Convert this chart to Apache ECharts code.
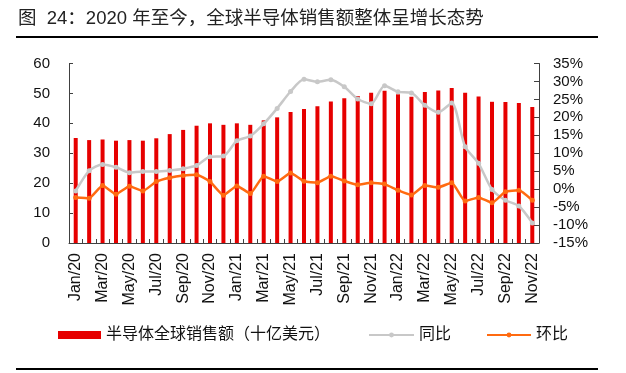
<!DOCTYPE html>
<html>
<head>
<meta charset="utf-8">
<script src="https://cdn.jsdelivr.net/npm/echarts@6/dist/echarts.min.js"></script>
<style>
html,body{margin:0;padding:0;background:#fff;}
#chart{width:626px;height:373px;}
</style>
</head>
<body>
<div id="chart"></div>
<script>
var months = ['Jan/20','Feb/20','Mar/20','Apr/20','May/20','Jun/20','Jul/20','Aug/20','Sep/20','Oct/20','Nov/20','Dec/20',
  'Jan/21','Feb/21','Mar/21','Apr/21','May/21','Jun/21','Jul/21','Aug/21','Sep/21','Oct/21','Nov/21','Dec/21',
  'Jan/22','Feb/22','Mar/22','Apr/22','May/22','Jun/22','Jul/22','Aug/22','Sep/22','Oct/22','Nov/22'];
var sales = [35.1, 34.4, 34.6, 34.2, 34.4, 34.2, 35.0, 36.4, 37.8, 39.2, 40.0, 39.5,
  40.0, 39.5, 41.0, 42.0, 43.8, 44.8, 45.7, 47.3, 48.4, 49.1, 50.2, 50.9,
  49.7, 48.9, 50.5, 51.0, 51.8, 50.2, 49.0, 47.2, 47.1, 46.8, 45.5];
var yoy = [-0.5, 5.1, 6.9, 6.1, 4.6, 4.9, 4.9, 5.2, 5.7, 6.6, 9.0, 9.2,
  13.5, 14.8, 18.2, 22.5, 27.2, 30.6, 29.9, 30.5, 28.5, 25.1, 23.8, 28.8,
  27.1, 26.8, 23.4, 21.4, 24.0, 11.8, 7.2, -0.1, -3.1, -4.7, -9.4];
var mom = [-2.3, -2.5, 1.0, -1.4, 0.8, -0.5, 2.1, 3.2, 3.8, 4.0, 2.1, -1.7,
  0.9, -1.2, 3.6, 2.1, 4.5, 2.2, 1.8, 3.6, 2.3, 1.2, 1.8, 1.4,
  -0.3, -1.6, 1.0, 0.5, 1.8, -3.3, -2.3, -3.8, -0.7, -0.3, -3.1];
var leftTicks = {min: 0, max: 60, interval: 10};
var rightTicks = {min: -15, max: 35, interval: 5};
var titleText = '图  24：2020 年至今，全球半导体销售额整体呈增长态势';
var seriesNames = ['半导体全球销售额（十亿美元）', '同比', '环比'];

var FONT = '"Liberation Sans", Arial, "Noto Sans CJK SC", sans-serif';
var chart = echarts.init(document.getElementById('chart'), null, {renderer: 'canvas'});
var axisLineStyle = {color: '#404040', width: 1};
var legendText = {fontSize: 16, color: '#111', fontFamily: FONT};

chart.setOption({
  animation: false,
  backgroundColor: '#fff',
  textStyle: {fontFamily: FONT},
  graphic: [
    {type: 'text', left: 18, top: 10, style: {text: titleText, font: '18.5px ' + FONT, fill: '#222'}},
    {type: 'line', shape: {x1: 16, y1: 37, x2: 598, y2: 37}, style: {stroke: '#000', lineWidth: 2}},
    {type: 'line', shape: {x1: 16, y1: 369, x2: 598, y2: 369}, style: {stroke: '#000', lineWidth: 2}}
  ],
  grid: {left: 69, right: 87, top: 63.5, height: 179.5, containLabel: false},
  legend: [
    {data: [seriesNames[0]], left: 58, top: 327, itemWidth: 43, itemHeight: 8, itemGap: 0, textStyle: legendText, padding: [0,0,0,0], icon: 'rect'},
    {data: [seriesNames[1]], left: 368, top: 327, itemWidth: 45, itemHeight: 6, textStyle: legendText, padding: [0,0,0,0]},
    {data: [seriesNames[2]], left: 486, top: 327, itemWidth: 44, itemHeight: 6, textStyle: legendText, padding: [0,0,0,0]}
  ],
  xAxis: {
    type: 'category',
    data: months,
    boundaryGap: true,
    axisLine: {lineStyle: axisLineStyle},
    axisTick: {show: true, inside: true, length: 4, interval: 0, lineStyle: axisLineStyle},
    axisLabel: {interval: 1, rotate: 90, fontSize: 16, color: '#111', margin: 10, fontFamily: FONT},
    splitLine: {show: false}
  },
  yAxis: [
    {
      type: 'value', min: leftTicks.min, max: leftTicks.max, interval: leftTicks.interval,
      axisLine: {show: true, lineStyle: axisLineStyle},
      axisTick: {show: true, inside: true, length: 4, lineStyle: axisLineStyle},
      axisLabel: {fontSize: 15, color: '#111', margin: 19, fontFamily: FONT},
      splitLine: {show: false}
    },
    {
      type: 'value', min: rightTicks.min, max: rightTicks.max, interval: rightTicks.interval,
      position: 'right',
      axisLine: {show: true, lineStyle: axisLineStyle},
      axisTick: {show: true, inside: true, length: 5, lineStyle: axisLineStyle},
      axisLabel: {fontSize: 15, color: '#111', margin: 14, formatter: '{value}%', fontFamily: FONT},
      splitLine: {show: false}
    }
  ],
  series: [
    {
      name: seriesNames[0], type: 'bar', data: sales, yAxisIndex: 0,
      barWidth: 4, itemStyle: {color: '#e60000'}
    },
    {
      name: seriesNames[1], type: 'line', data: yoy, yAxisIndex: 1,
      smooth: 0.25, symbol: 'circle', symbolSize: 5,
      lineStyle: {color: '#c8c8c8', width: 2.5},
      itemStyle: {color: '#c8c8c8'}
    },
    {
      name: seriesNames[2], type: 'line', data: mom, yAxisIndex: 1,
      smooth: 0.15, symbol: 'circle', symbolSize: 5,
      lineStyle: {color: '#ff6a10', width: 2.5},
      itemStyle: {color: '#ff6a10'}
    }
  ]
});
</script>
</body>
</html>
